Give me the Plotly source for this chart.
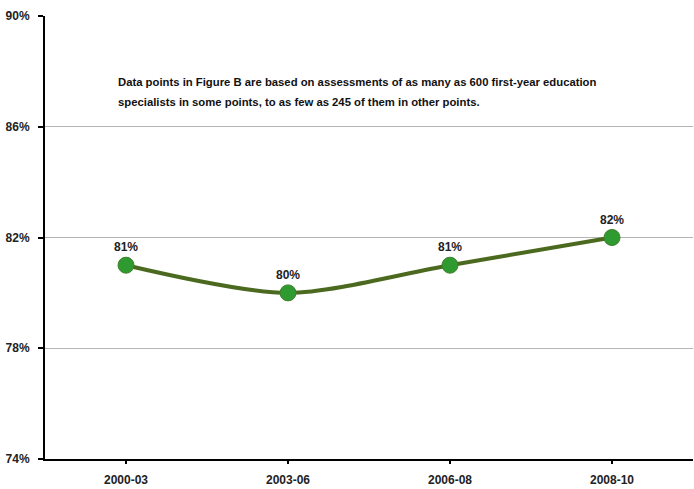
import plotly.graph_objects as go

periods = ["2000-03", "2003-06", "2006-08", "2008-10"]
values = [81, 80, 81, 82]
labels = ["81%", "80%", "81%", "82%"]
y_ticks = [74, 78, 82, 86, 90]
y_tick_text = ["74%", "78%", "82%", "86%", "90%"]
note_lines = [
    "Data points in Figure B are based on assessments of as many as 600 first-year education",
    "specialists in some points, to as few as 245 of them in other points.",
]
note_y = [0.851, 0.806]

FONT = "Liberation Sans, Arial, sans-serif"

fig = go.Figure()
fig.add_trace(go.Scatter(
    x=periods, y=values, mode="lines+markers+text",
    text=["<b>" + t + "</b>" for t in labels], textposition="top center",
    textfont=dict(family=FONT, size=12, color="#222222"),
    line=dict(color="#4b6a1f", width=4, shape="spline", smoothing=0.8),
    marker=dict(color="#2f9a2f", size=16, line=dict(color="#3f7f2a", width=1)),
    cliponaxis=False, showlegend=False, hoverinfo="skip",
))

for line, yy in zip(note_lines, note_y):
    fig.add_annotation(
        x=0.11, y=yy, xref="paper", yref="paper", xanchor="left", yanchor="middle",
        text="<b>" + line + "</b>", showarrow=False, align="left",
        font=dict(family=FONT, size=11.3, color="#111111"),
    )

fig.update_layout(
    width=694, height=489,
    margin=dict(l=45, r=1, t=16, b=30, autoexpand=False),
    paper_bgcolor="white", plot_bgcolor="white",
    font=dict(family=FONT, size=12, color="#222222"),
    xaxis=dict(
        type="category", range=[-0.5, 3.5], automargin=False,
        showline=True, linecolor="black", linewidth=2,
        ticks="outside", ticklen=3, tickcolor="black", tickwidth=2,
        ticklabelstandoff=6,
        showgrid=False, zeroline=False,
        tickfont=dict(family=FONT, size=12, color="#222222"),
        tickprefix="<b>", ticksuffix="</b>",
    ),
    yaxis=dict(
        range=[74, 90], tickvals=y_ticks, ticktext=["<b>" + t + "</b>" for t in y_tick_text],
        automargin=False,
        showline=True, linecolor="black", linewidth=2,
        ticks="outside", ticklen=5, tickcolor="black", tickwidth=2,
        ticklabelstandoff=6,
        showgrid=True, gridcolor="#b5b5b5", gridwidth=1, zeroline=False,
        tickfont=dict(family=FONT, size=12, color="#222222"),
    ),
)

fig.write_html(
    "out.html",
    config={"displayModeBar": False},
    post_script="document.body.style.margin='0';document.body.style.overflow='hidden';",
)
